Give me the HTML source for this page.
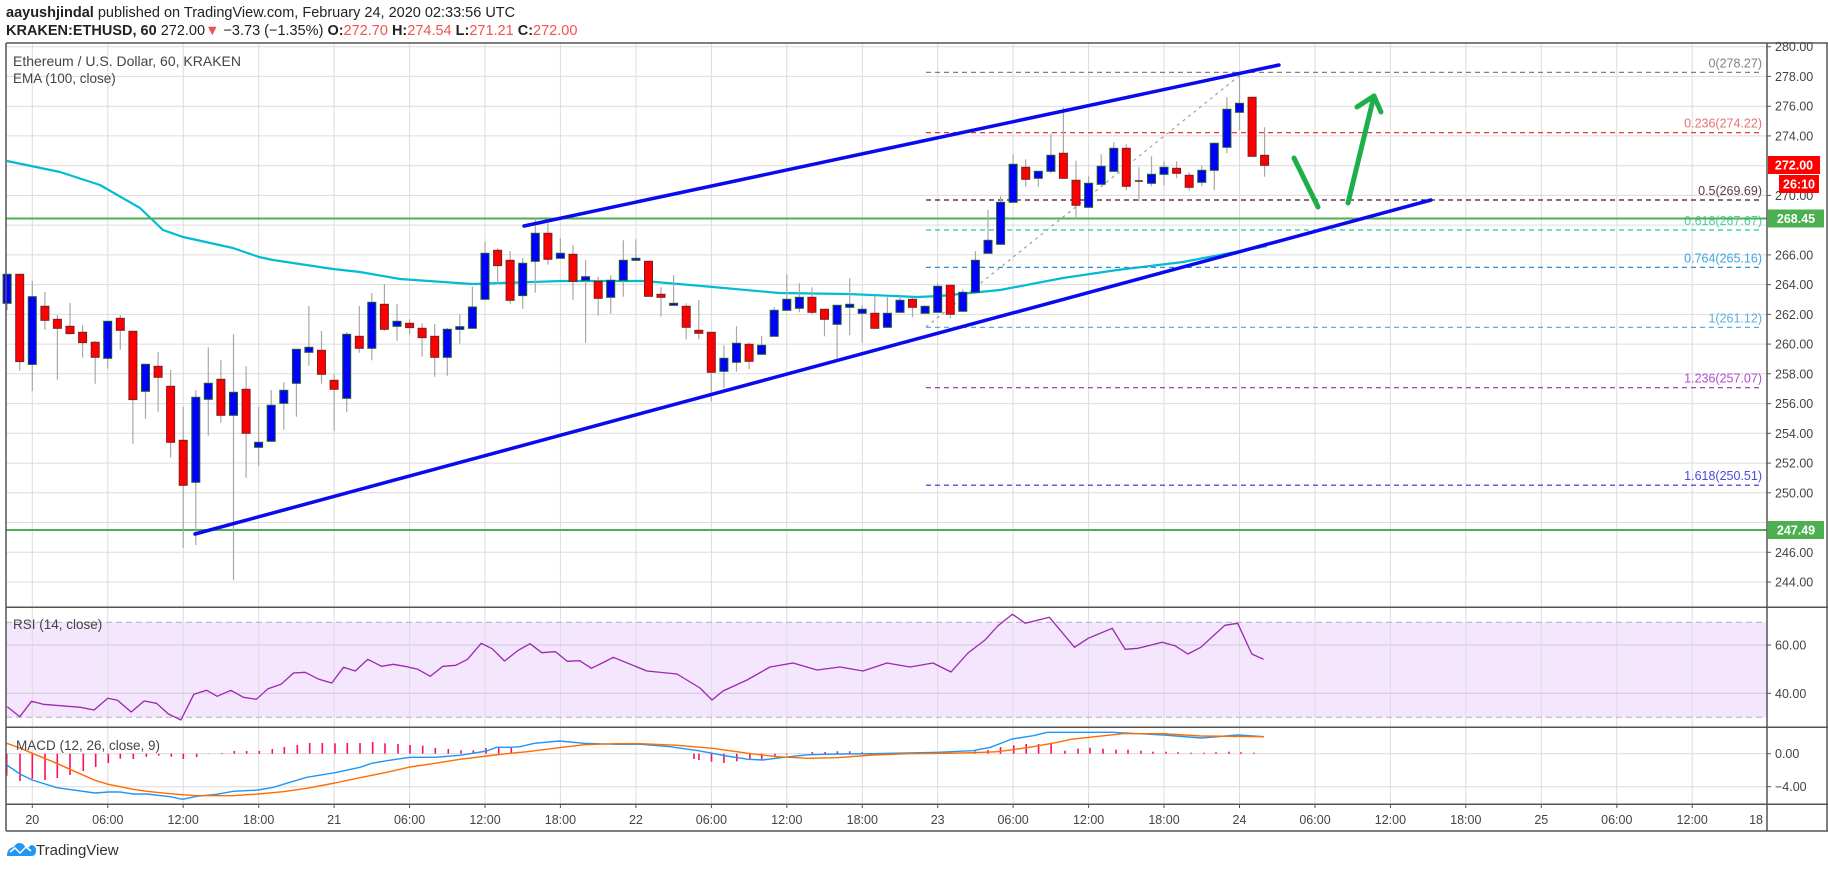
<!DOCTYPE html>
<html><head><meta charset="utf-8">
<style>
html,body{margin:0;padding:0;background:#fff;}
body{width:1828px;height:868px;overflow:hidden;font-family:"Liberation Sans",sans-serif;}
</style></head>
<body>
<svg id="s" width="1828" height="868" xmlns="http://www.w3.org/2000/svg" font-family="Liberation Sans, sans-serif"></svg>
<script>
var o=[];
function L(x1,y1,x2,y2,c,w,extra){o.push('<line x1="'+x1+'" y1="'+y1+'" x2="'+x2+'" y2="'+y2+'" stroke="'+c+'" stroke-width="'+(w||1)+'" '+(extra||'')+'/>');}
function T(x,y,t,c,sz,anchor,extra){o.push('<text x="'+x+'" y="'+y+'" fill="'+c+'" font-size="'+sz+'" text-anchor="'+(anchor||'start')+'" '+(extra||'')+'>'+t+'</text>');}
function P(pts,c,w){o.push('<polyline fill="none" stroke="'+c+'" stroke-width="'+w+'" stroke-linejoin="round" points="'+pts.map(function(p){return p[0].toFixed(1)+','+p[1].toFixed(1)}).join(' ')+'"/>');}
var AX=1767;
function py(p){return 46.7+(280-p)*14.87;}
function hx(h){return 32.3+12.575*h;}
// RSI band
o.push('<rect x="6" y="622.3" width="'+(AX-6)+'" height="95" fill="#f3e6fd"/>');
// horizontal grid main
for(var p=244;p<=280;p+=2){L(6,py(p).toFixed(1),AX,py(p).toFixed(1),'#dcdcdc',1);}
L(6,645,AX,645,'#d4c4e0',1);L(6,693.3,AX,693.3,'#d4c4e0',1);
L(6,753.7,AX,753.7,'#dcdcdc',1);L(6,786.7,AX,786.7,'#dcdcdc',1);
// vertical grid
for(var k=0;k<=22;k++){var x=(32.3+75.45*k).toFixed(1);L(x,43,x,804,'#dcdcdc',1);}
L(6,622.3,AX,622.3,'#b8aec0',1,'stroke-dasharray="6,4"');L(6,717.3,AX,717.3,'#b8aec0',1,'stroke-dasharray="6,4"');
// EMA
P([[7,161],[60,172],[100,185],[140,208],[163,230],[183,237],[233,248],[259,257],[273,260],[333,269],[360,272],[400,279],[472,284],[562,281],[644,281],[713,287],[779,293],[848,294],[917,297],[940,296],[1000,290],[1063,278],[1117,270],[1183,262],[1267,246]],'#00bcd4',2.2);
// fib lines
var fib=[[278.27,'0(278.27)','#808080','#808080'],[274.22,'0.236(274.22)','#e53935','#e57373'],[269.69,'0.5(269.69)','#4a1030','#5d3a4a'],[267.67,'0.618(267.67)','#26c6a0','#4dd0a8'],[265.16,'0.764(265.16)','#2b8fd0','#42a5e0'],[261.12,'1(261.12)','#5ab0e0','#5ab0e0'],[257.07,'1.236(257.07)','#9c27b0','#b04cd0'],[250.51,'1.618(250.51)','#2f2fd0','#4a4ae0']];
fib.forEach(function(f){var y=py(f[0]).toFixed(1);L(926,y,AX-4,y,f[2],1.2,'stroke-dasharray="5,4"');T(1762,(py(f[0])-5).toFixed(1),f[1],f[3],12.5,'end');});
// dashed diagonal
L(926,327,1244,72,'#9e9e9e',1.2,'stroke-dasharray="3,4"');
// green horizontals
L(6,218.5,AX,218.5,'#4caf50',2);L(6,530,AX,530,'#4caf50',2);
// candles
var z2=[['B',133,220,133,240],['R',133,395,133,422],['B',200,403,153,483],['R',229,271,186,299],['R',268,295,255,449],['R',289,311,219,313],['R',307,338,285,383],['R',337,382,333,461],['B',274,385,274,416],['R',265,301,255,359],['R',304,509,304,641],['B',403,484,403,566],['R',409,442,366,545],['R',469,637,420,683],['R',631,766,531,954],['B',502,757,480,945],['B',460,508,352,617],['R',448,556,390,578],['B',487,556,313,1050],['R',478,610,409,743],['B',637,652,531,707],['B',526,634,480,634],['B',481,520,457,599],['B',358,460,358,560],['B',352,367,228,407],['R',361,433,303,461],['R',451,478,433,602],['B',313,505,306,547],['R',319,355,228,368],['B',217,355,189,391],['R',223,298,162,302],['B',274,289,222,332]];
var z3=[['R',430,443,418,462],['R',445,473,430,530],['R',469,532,432,590],['B',448,532,444,587],['B',440,448,403,491],['B',381,445,320,445],['B',220,358,186,358],['R',211,257,205,313],['R',241,361,213,371],['B',250,347,234,386],['B',160,244,115,338],['R',160,238,130,254],['B',220,235,175,235],['R',223,304,196,359],['B',290,301,240,488],['R',304,355,290,407],['B',301,352,286,401],['B',241,301,181,350],['B',235,241,178,241],['R',244,349,244,349],['R',343,352,322,410],['B',370,376,286,376],['R',379,442,370,478],['R',451,460,360,478],['R',457,577,457,664],['B',535,574,496,625],['B',490,547,439,575],['R',493,544,487,568],['B',496,523,468,523],['B',391,469,381,469],['B',358,391,283,391],['B',352,385,310,397],['R',352,397,322,403],['R',388,418,388,469],['B',376,433,376,535],['B',373,382,295,466],['B',388,400,376,488],['R',400,445,349,445],['B',400,442,351,442],['B',361,397,349,397],['R',358,382,352,412],['B',379,400,376,400]];
var z4=[['B',649,727,640,727],['R',646,733,646,745],['B',667,724,658,724],['B',571,667,544,667],['B',511,550,420,550],['B',397,523,379,523],['B',283,397,253,397],['R',292,328,268,350],['B',304,325,304,350],['B',256,304,191,310],['R',250,325,112,325],['R',331,406,272,448],['B',340,412,319,412],['B',289,343,253,343],['B',235,304,217,304],['R',235,349,223,361],['D',333,336,292,394],['B',313,340,259,349],['B',292,313,274,346],['R',295,310,274,325],['R',316,352,307,361],['B',301,337,286,349],['B',220,301,217,361],['B',118,232,82,250],['B',100,127,10,181],['R',82,259,82,259],['R',256,286,172,320]];
function cand(h,d,y0){var x=hx(h);var bt=y0+d[1]/3,bb=y0+d[2]/3,wt=y0+d[3]/3,wb=y0+d[4]/3;
 L(x.toFixed(1),wt.toFixed(1),x.toFixed(1),wb.toFixed(1),'#a8a8a8',1.2);
 if(d[0]=='D'){L((x-4).toFixed(1),bt.toFixed(1),(x+4).toFixed(1),bt.toFixed(1),'#5a1a1a',1.5);return;}
 var f=d[0]=='B'?'#0000ff':'#ff0000',s=d[0]=='B'?'#1f5a2a':'#7a1f1f';
 o.push('<rect x="'+(x-4).toFixed(1)+'" y="'+bt.toFixed(1)+'" width="8" height="'+Math.max(bb-bt,1.5).toFixed(1)+'" fill="'+f+'" stroke="'+s+'" stroke-width="1"/>');}
z2.forEach(function(d,i){cand(i-2,d,230);});
z3.forEach(function(d,i){cand(30+i,d,180);});
z4.forEach(function(d,i){cand(72+i,d,70);});
// channel lines
L(524,226,1279,65,'#0a0aee',3.5,'stroke-linecap="round"');
L(195,534,1431,200,'#0a0aee',3.5,'stroke-linecap="round"');
// green arrows
o.push('<g stroke="#1db04a" stroke-width="5" fill="none" stroke-linecap="round" stroke-linejoin="round"><line x1="1294" y1="158" x2="1318" y2="207"/><line x1="1348" y1="203" x2="1374" y2="96"/><polyline points="1357,107 1374,96 1381,112"/></g>');
// RSI line
var r5=[[18,320],[50,350],[80,304],[110,313],[205,322],[240,330],[275,295],[300,301],[335,336],[368,303],[400,310],[430,342],[462,360],[495,283],[528,271],[555,289],[590,271],[622,292],[655,298],[685,266],[718,253],[750,219],[780,217],[815,238],[848,249],[878,202],[908,213],[940,178],[975,199],[1005,193],[1040,200],[1068,208],[1100,229],[1132,199],[1165,196],[1195,178],[1230,130],[1258,146],[1290,183],[1325,151],[1355,131],[1385,158],[1420,155],[1450,184],[1482,182],[1512,205],[1545,186],[1568,172]];
var rp=r5.map(function(p){return [32.3+(p[0]-82)*0.391,600+p[1]/3];});
rp=rp.concat([[647,671],[677,674],[700,688],[712,700],[723,691],[747,680],[770,667],[793,663],[817,670],[840,667],[863,671],[887,663],[910,667],[933,663],[951,672],[968,653],[985,640]]);
var r6=[[0,78],[40,43],[75,70],[140,52],[208,142],[245,115],[310,85],[345,148],[380,145],[445,127],[480,137],[515,162],[550,142],[615,76],[650,70],[688,162],[720,178]];
rp=rp.concat(r6.map(function(p){return [1013.2+(p[0]-42)*0.3693,600+p[1]/3];}));
P(rp,'#9c27b0',1.3);
// MACD histogram
var h9=[[20,167],[60,183],[97,176],[135,180],[172,174],[210,165],[250,153],[287,141],[325,129],[361,116],[400,117],[439,110],[476,107],[514,110],[550,117],[590,111],[627,102],[665,99],[703,93],[740,93],[778,93],[817,87],[853,81],[892,75],[929,69],[967,69],[1005,70],[1042,69],[1080,69],[1118,66],[1155,70],[1194,72],[1230,75],[1268,77],[1306,84],[1345,87],[1383,91],[1420,91],[1458,84],[1496,82],[1534,83]];
h9.forEach(function(b){var x=(b[0]/3).toFixed(1);L(x,753.7,x,(720+b[1]/3).toFixed(1),'#ff0d5c',1.6);});
var h10=[[548,117],[562,120],[597,125],[632,129],[668,124],[705,120],[738,118],[775,108],[808,104],[845,100],[880,96],[916,96],[950,94],[985,94],[1020,97],[1057,100],[1091,101],[1127,101],[1337,94],[1373,90],[1408,81],[1445,76],[1480,72],[1515,72],[1550,71]];
h10.forEach(function(b){var x=(635.9+(b[0]-385)*0.3564).toFixed(1);L(x,753.7,x,(720+b[1]/3).toFixed(1),'#ff0d5c',1.6);});
[[1065,3],[1078,5],[1090,6],[1103,5],[1116,4],[1128,4],[1141,3],[1153,2],[1166,2],[1178,1.5],[1191,1],[1204,1],[1216,1.5],[1229,2],[1241,1.5],[1254,1]].forEach(function(b){L(b[0],753.7,b[0],753.7-b[1],'#ff0d5c',1.6);});
var mb=[[20,135],[60,162],[97,180],[170,203],[285,219],[325,216],[360,216],[400,222],[440,222],[510,230],[548,238],[590,229],[650,223],[700,214],[775,210],[820,202],[870,187],[920,172],[1005,158],[1080,142],[1115,130],[1160,122],[1230,112],[1305,112],[1380,106],[1460,93],[1490,82],[1530,82]].map(function(p){return [p[0]/3,720+p[1]/3];});
mb=mb.concat([[60,80],[100,70],[170,63],[240,70],[330,73],[400,73],[480,80],[560,92],[640,108],[700,118],[740,120],[800,112],[870,104],[950,102],[1050,101],[1150,99],[1230,97],[1330,92],[1380,82],[1440,57],[1500,47],[1540,37],[1568,37]].map(function(p){return [635.9+(p[0]-385)*0.3564,720+p[1]/3];}));
mb=mb.concat([[1112,732.3],[1164,735],[1201,738],[1238,735],[1264,736.7]]);
P(mb,'#2196f3',1.4);
var mo=[[20,70],[60,84],[97,100],[170,130],[210,148],[285,181],[325,193],[400,208],[440,214],[510,221],[548,224],[590,227],[700,227],[775,222],[850,215],[920,205],[1005,189],[1080,173],[1160,157],[1230,141],[1305,130],[1380,118],[1460,108],[1530,100]].map(function(p){return [p[0]/3,720+p[1]/3];});
mo=mo.concat([[80,95],[170,83],[240,74],[330,71],[400,71],[500,76],[600,85],[700,100],[780,110],[870,115],[950,113],[1050,105],[1150,101],[1250,100],[1330,98],[1400,95],[1450,88],[1500,80],[1568,67]].map(function(p){return [635.9+(p[0]-385)*0.3564,720+p[1]/3];}));
mo=mo.concat([[1071,739.3],[1123,733.7],[1164,733.7],[1201,736],[1264,736.7]]);
P(mo,'#ff6d00',1.4);
// frame
L(6,43,1828,43,'#555',1.5);L(6,43,6,831,'#555',1.5);L(AX,43,AX,831,'#555',1.5);
L(6,607.3,1828,607.3,'#555',1.5);L(6,727.3,1828,727.3,'#555',1.5);L(6,804.3,1828,804.3,'#555',1.5);L(6,831,1828,831,'#555',1.5);
L(1827,43,1827,831,'#555',1.5);
// price axis labels
for(var p=244;p<=280;p+=2){if(p==248||p==268||p==272)continue;var y=py(p);L(AX,y.toFixed(1),AX+4,y.toFixed(1),'#555',1);T(1775,(y+4.5).toFixed(1),p.toFixed(2),'#444',12.5);}
function box(y,t,c,x,w){o.push('<rect x="'+x+'" y="'+(y-9)+'" width="'+w+'" height="18" fill="'+c+'"/>');T(x+w/2,y+4.5,t,'#fff',12.5,'middle','font-weight="bold"');}
box(165,'272.00','#ff0000',1768,52);box(184,'26:10','#ff0000',1779,40);box(218.5,'268.45','#4caf50',1768,56);box(530,'247.49','#4caf50',1768,56);
[[645,'60.00'],[693.3,'40.00'],[753.7,'0.00'],[786.7,'\u22124.00']].forEach(function(a){L(AX,a[0],AX+4,a[0],'#555',1);T(1775,a[0]+4.5,a[1],'#444',12.5);});
// time labels
var tl=['20','06:00','12:00','18:00','21','06:00','12:00','18:00','22','06:00','12:00','18:00','23','06:00','12:00','18:00','24','06:00','12:00','18:00','25','06:00','12:00'];
tl.forEach(function(t,k){var x=32.3+75.45*k;L(x.toFixed(1),804.3,x.toFixed(1),808,'#555',1);T(x.toFixed(1),824,t,'#444',12.5,'middle');});
T(1763,824,'18','#444',12.5,'end');
// legends
T(13,66,'Ethereum / U.S. Dollar, 60, KRAKEN','#444',14);
T(13,83,'EMA (100, close)','#444',13.5);
T(13,629,'RSI (14, close)','#444',13.5);
T(16,750,'MACD (12, 26, close, 9)','#444',13.5);
// header
o.push('<text x="6" y="17" font-size="14.5" fill="#222"><tspan font-weight="bold">aayushjindal</tspan> published on TradingView.com, February 24, 2020 02:33:56 UTC</text>');
o.push('<text x="6" y="35" font-size="14.5" fill="#222"><tspan font-weight="bold">KRAKEN:ETHUSD, 60</tspan>  272.00<tspan fill="#ef5350">\u25BC</tspan> \u22123.73 (\u22121.35%) <tspan font-weight="bold">O:</tspan><tspan fill="#ef5350">272.70</tspan> <tspan font-weight="bold">H:</tspan><tspan fill="#ef5350">274.54</tspan> <tspan font-weight="bold">L:</tspan><tspan fill="#ef5350">271.21</tspan> <tspan font-weight="bold">C:</tspan><tspan fill="#ef5350">272.00</tspan></text>');
// footer logo
o.push('<path d="M7,856 q0,-8 7,-9 q3,-6 9,-3 l4,5 l4,-4 q5,0 5,6 q0,5 -5,5 h-22 z" fill="#2196f3"/>');
o.push('<polyline points="10,852 15,848 20,853 26,847 31,851" fill="none" stroke="#fff" stroke-width="1.5"/>');
T(36,855,'TradingView','#333',15);
document.getElementById('s').innerHTML=o.join('');
</script>
</body></html>
